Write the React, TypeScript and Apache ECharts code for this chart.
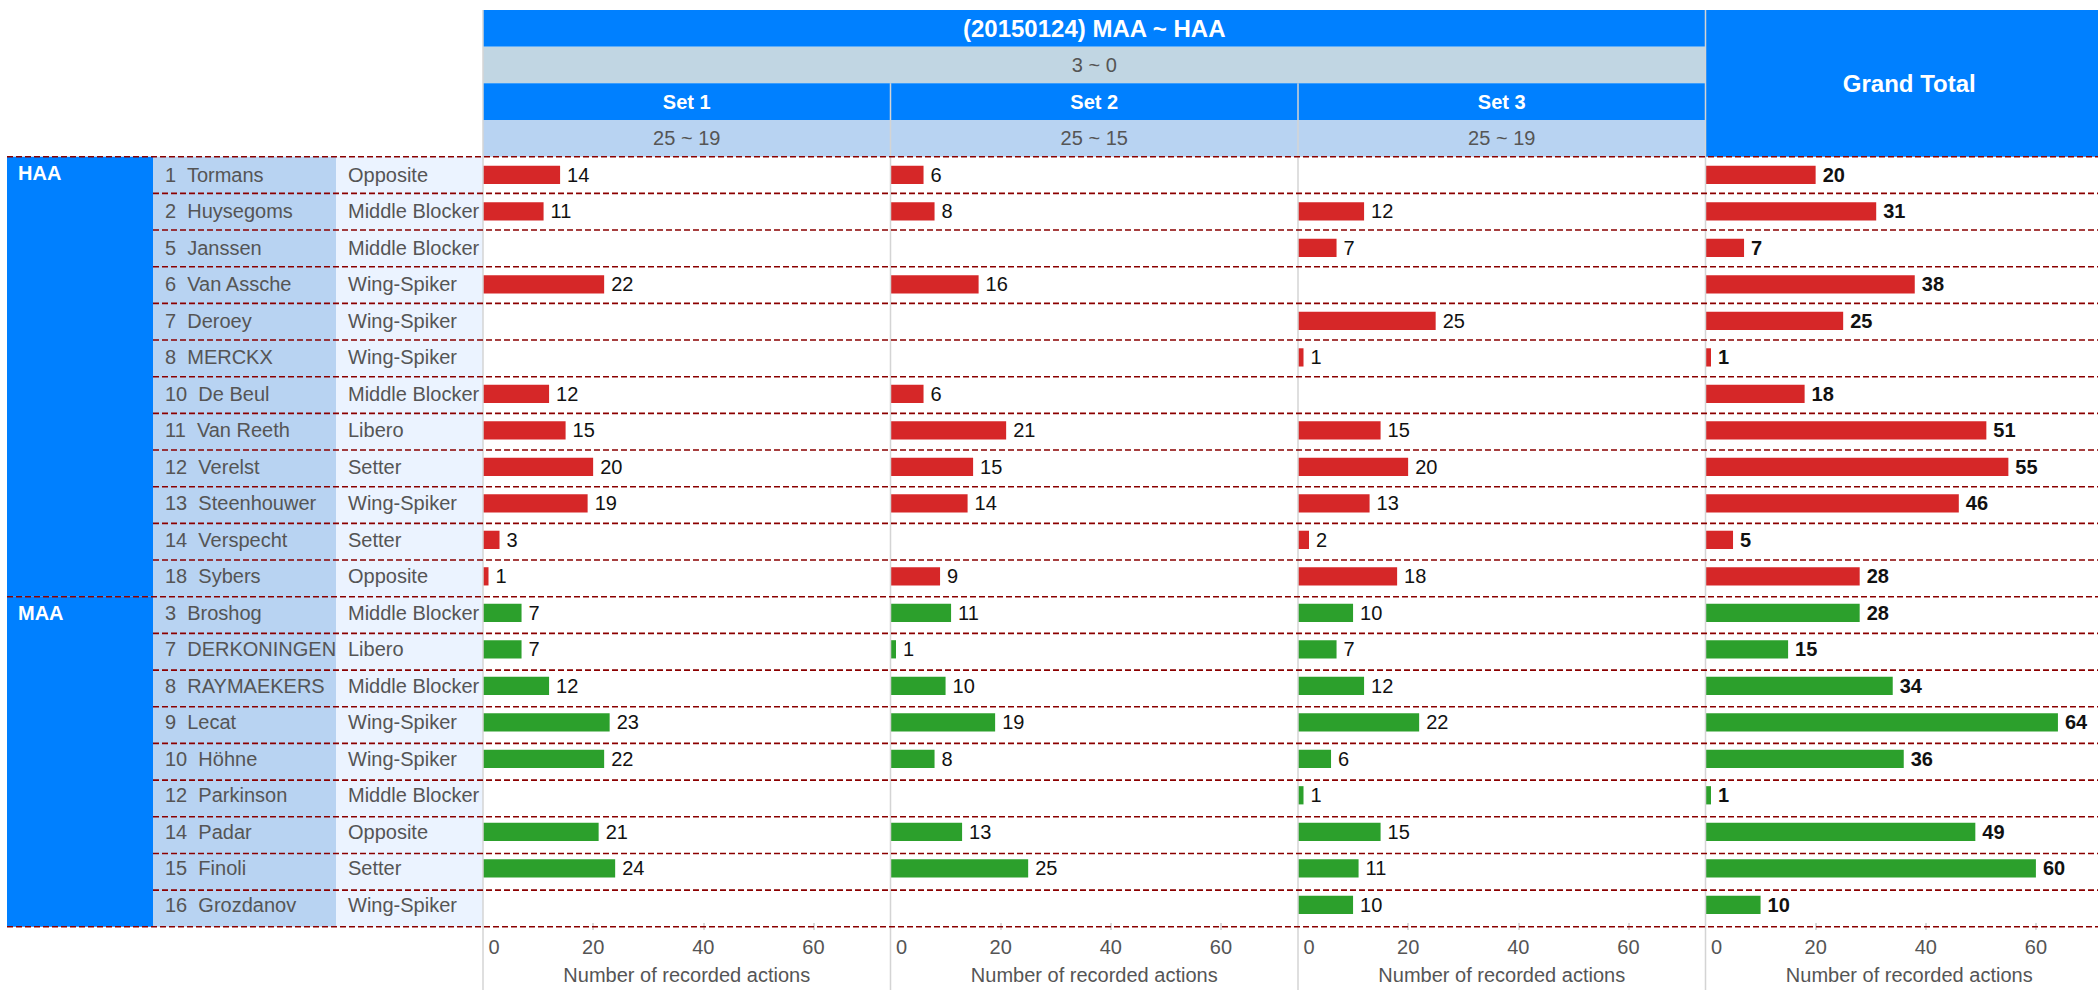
import React, { useEffect, useRef } from "react";
import * as echarts from "echarts";

// ---------- data ----------
const title = "(20150124) MAA ~ HAA";
const matchScore = "3 ~ 0";
const setNames = ["Set 1", "Set 2", "Set 3"];
const setScores = ["25 ~ 19", "25 ~ 15", "25 ~ 19"];
const totalName = "Grand Total";
const axisTitle = "Number of recorded actions";
const teams = ["HAA", "MAA"];
const teamColors = ["#d62728", "#2ca02c"];

const players = [
  "1  Tormans", "2  Huysegoms", "5  Janssen", "6  Van Assche", "7  Deroey", "8  MERCKX",
  "10  De Beul", "11  Van Reeth", "12  Verelst", "13  Steenhouwer", "14  Verspecht", "18  Sybers",
  "3  Broshog", "7  DERKONINGEN", "8  RAYMAEKERS", "9  Lecat", "10  Höhne", "12  Parkinson",
  "14  Padar", "15  Finoli", "16  Grozdanov",
];
const playerTeams = [
  "HAA", "HAA", "HAA", "HAA", "HAA", "HAA", "HAA", "HAA", "HAA", "HAA", "HAA", "HAA",
  "MAA", "MAA", "MAA", "MAA", "MAA", "MAA", "MAA", "MAA", "MAA",
];
const positions = [
  "Opposite", "Middle Blocker", "Middle Blocker", "Wing-Spiker", "Wing-Spiker", "Wing-Spiker",
  "Middle Blocker", "Libero", "Setter", "Wing-Spiker", "Setter", "Opposite",
  "Middle Blocker", "Libero", "Middle Blocker", "Wing-Spiker", "Wing-Spiker", "Middle Blocker",
  "Opposite", "Setter", "Wing-Spiker",
];
const set1 = [14, 11, null, 22, null, null, 12, 15, 20, 19, 3, 1, 7, 7, 12, 23, 22, null, 21, 24, null];
const set2 = [6, 8, null, 16, null, null, 6, 21, 15, 14, null, 9, 11, 1, 10, 19, 8, null, 13, 25, null];
const set3 = [null, 12, 7, null, 25, 1, null, 15, 20, 13, 2, 18, 10, 7, 12, 22, 6, 1, 15, 11, 10];
const grandTotal = [20, 31, 7, 38, 25, 1, 18, 51, 55, 46, 5, 28, 28, 15, 34, 64, 36, 1, 49, 60, 10];
const xTicks = [0, 20, 40, 60];
const xMax = 74;

// ---------- layout ----------
const FONT = "Liberation Sans, Arial, sans-serif";
const ROW_H = 36.67;
const DATA_TOP = 156.7;
const N = players.length;
const HEADER_TOP = DATA_TOP - 4 * ROW_H;
const PANEL_X0 = 483;
const PANEL_W = 407.5;
const TEAM_X = 7;
const PLAYER_X = 153;
const POS_X = 336;
const BLUE = "#0080ff";
const GREY_BAND = "#c1d6e3";
const LIGHT_BLUE = "#b8d3f2";
const PALE_BLUE = "#ebf3ff";
const TEXT_GREY = "#555555";
const DASH = "#8b0000";
const DIVIDER = "#d4d4d4";
const W = 2098;
const H = 990;
const CHART_W = 2130; // wider than the page so the last panel keeps its full width (clipped by the page)

const panelX = (i: number) => PANEL_X0 + i * PANEL_W;
const rowY = (k: number) => DATA_TOP + k * ROW_H;

function buildOption() {
  const panels = [set1, set2, set3, grandTotal];

  const grids = panels.map((_, i) => ({
    left: panelX(i),
    top: DATA_TOP,
    width: PANEL_W,
    height: N * ROW_H,
    containLabel: false,
  }));

  const xAxes = panels.map((_, i) => ({
    gridIndex: i,
    type: "value",
    min: 0,
    max: xMax,
    axisLine: { show: false },
    splitLine: { show: false },
    axisTick: {
      show: true,
      length: 7,
      customValues: xTicks.slice(1),
      lineStyle: { color: "#cccccc", width: 1.5 },
    },
    axisLabel: {
      customValues: xTicks,
      margin: 14,
      fontSize: 20,
      color: TEXT_GREY,
      fontFamily: FONT,
      alignMinLabel: "left",
      formatter: (v: number) => (v === 0 ? " 0" : String(v)),
    },
    name: axisTitle,
    nameLocation: "middle",
    nameGap: 42,
    nameTextStyle: { fontSize: 20, color: TEXT_GREY, fontFamily: FONT },
  }));

  const yAxes = panels.map((_, i) => ({
    gridIndex: i,
    type: "category",
    data: players,
    inverse: true,
    axisLine: { show: false },
    axisTick: { show: false },
    splitLine: { show: false },
    axisLabel:
      i === 0
        ? {
            show: true,
            interval: 0,
            align: "left",
            margin: PANEL_X0 - 165,
            formatter: (val: string, idx: number) => `{p|${val}}{q|${positions[idx]}}`,
            rich: {
              p: { width: 183, fontSize: 20, color: TEXT_GREY, fontFamily: FONT },
              q: { fontSize: 20, color: TEXT_GREY, fontFamily: FONT },
            },
          }
        : { show: false },
  }));

  const series = panels.map((vals, i) => ({
    type: "bar",
    xAxisIndex: i,
    yAxisIndex: i,
    barWidth: "50%",
    data: vals.map((v) => (v == null ? "-" : v)),
    itemStyle: {
      color: (p: any) => teamColors[teams.indexOf(playerTeams[p.dataIndex])],
    },
    label: {
      show: true,
      position: "right",
      distance: 7,
      fontSize: 20,
      fontFamily: FONT,
      color: "#111111",
      fontWeight: i === 3 ? "bold" : "normal",
      textBorderWidth: 0,
    },
  }));

  const els: any[] = [];
  // left column backgrounds
  teams.forEach((t) => {
    const start = playerTeams.indexOf(t);
    const count = playerTeams.filter((x) => x === t).length;
    els.push({
      type: "rect", z: -10,
      shape: { x: TEAM_X, y: rowY(start), width: PLAYER_X - TEAM_X, height: count * ROW_H },
      style: { fill: BLUE },
    });
    els.push({
      type: "text", z: 5, x: 18, y: rowY(start) + ROW_H / 2 - 2,
      style: { text: t, fill: "#ffffff", fontSize: 20, fontWeight: "bold", fontFamily: FONT, verticalAlign: "middle", align: "left" },
    });
  });
  els.push({ type: "rect", z: -10, shape: { x: PLAYER_X, y: DATA_TOP, width: POS_X - PLAYER_X, height: N * ROW_H }, style: { fill: LIGHT_BLUE } });
  els.push({ type: "rect", z: -10, shape: { x: POS_X, y: DATA_TOP, width: PANEL_X0 - POS_X, height: N * ROW_H }, style: { fill: PALE_BLUE } });

  // header
  const setsW = 3 * PANEL_W;
  els.push({ type: "rect", z: -10, shape: { x: PANEL_X0, y: HEADER_TOP, width: setsW, height: ROW_H }, style: { fill: BLUE } });
  els.push({ type: "rect", z: -10, shape: { x: PANEL_X0, y: HEADER_TOP + ROW_H, width: setsW, height: ROW_H }, style: { fill: GREY_BAND } });
  els.push({
    type: "text", z: 5, x: PANEL_X0 + setsW / 2, y: HEADER_TOP + ROW_H / 2,
    style: { text: title, fill: "#ffffff", fontSize: 24, fontWeight: "bold", fontFamily: FONT, align: "center", verticalAlign: "middle" },
  });
  els.push({
    type: "text", z: 5, x: PANEL_X0 + setsW / 2, y: HEADER_TOP + 1.5 * ROW_H,
    style: { text: matchScore, fill: TEXT_GREY, fontSize: 20, fontFamily: FONT, align: "center", verticalAlign: "middle" },
  });
  setNames.forEach((s, i) => {
    els.push({ type: "rect", z: -10, shape: { x: panelX(i), y: HEADER_TOP + 2 * ROW_H, width: PANEL_W, height: ROW_H }, style: { fill: BLUE } });
    els.push({ type: "rect", z: -10, shape: { x: panelX(i), y: HEADER_TOP + 3 * ROW_H, width: PANEL_W, height: ROW_H }, style: { fill: LIGHT_BLUE } });
    els.push({
      type: "text", z: 5, x: panelX(i) + PANEL_W / 2, y: HEADER_TOP + 2.5 * ROW_H,
      style: { text: s, fill: "#ffffff", fontSize: 20, fontWeight: "bold", fontFamily: FONT, align: "center", verticalAlign: "middle" },
    });
    els.push({
      type: "text", z: 5, x: panelX(i) + PANEL_W / 2, y: HEADER_TOP + 3.5 * ROW_H,
      style: { text: setScores[i], fill: TEXT_GREY, fontSize: 20, fontFamily: FONT, align: "center", verticalAlign: "middle" },
    });
  });
  els.push({ type: "rect", z: -10, shape: { x: panelX(3), y: HEADER_TOP, width: PANEL_W, height: 4 * ROW_H }, style: { fill: BLUE } });
  els.push({
    type: "text", z: 5, x: panelX(3) + PANEL_W / 2, y: HEADER_TOP + 2 * ROW_H,
    style: { text: totalName, fill: "#ffffff", fontSize: 24, fontWeight: "bold", fontFamily: FONT, align: "center", verticalAlign: "middle" },
  });

  // vertical dividers
  [0, 1, 2, 3].forEach((i) => {
    const top = i === 0 || i === 3 ? HEADER_TOP : HEADER_TOP + 2 * ROW_H;
    els.push({
      type: "line", z: 20,
      shape: { x1: panelX(i), y1: top, x2: panelX(i), y2: H },
      style: { stroke: DIVIDER, lineWidth: 1.5 },
    });
  });

  // dashed row separators
  const teamBounds = new Set<number>([0, N]);
  teams.forEach((t) => teamBounds.add(playerTeams.indexOf(t)));
  for (let k = 0; k <= N; k++) {
    const x1 = teamBounds.has(k) ? TEAM_X : PLAYER_X;
    els.push({
      type: "line", z: 30,
      shape: { x1, y1: rowY(k), x2: CHART_W, y2: rowY(k) },
      style: { stroke: DASH, lineWidth: 1.6, lineDash: [6, 3] },
    });
  }

  return {
    animation: false,
    backgroundColor: "#ffffff",
    textStyle: { fontFamily: FONT },
    grid: grids,
    xAxis: xAxes,
    yAxis: yAxes,
    series,
    graphic: { elements: els },
  };
}

export default function App() {
  const ref = useRef<HTMLDivElement>(null);
  useEffect(() => {
    if (!ref.current) return;
    const chart = echarts.init(ref.current, null, { renderer: "svg" });
    chart.setOption(buildOption() as any);
    return () => chart.dispose();
  }, []);
  return (
    <div
      style={{ position: "fixed", left: 0, top: 0, width: W, height: H, overflow: "hidden", background: "#fff" }}
    >
      <div ref={ref} style={{ width: CHART_W, height: H }} />
    </div>
  );
}
